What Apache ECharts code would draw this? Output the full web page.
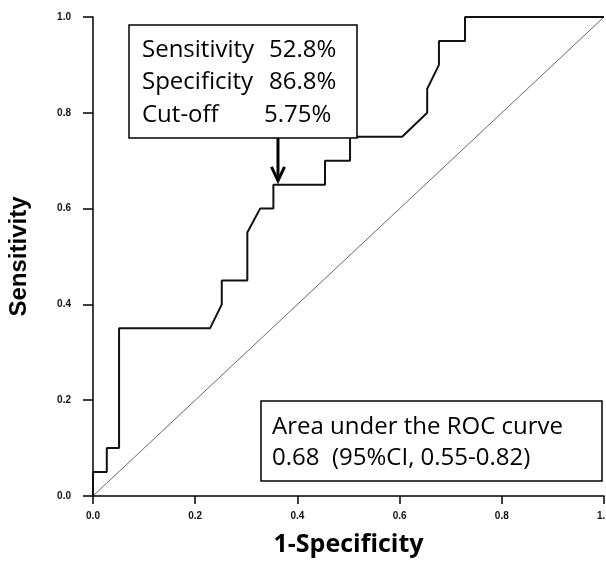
<!DOCTYPE html>
<html>
<head>
<meta charset="utf-8">
<script src="https://cdn.jsdelivr.net/npm/echarts@6/dist/echarts.min.js"></script>
<style>
  html, body { margin: 0; padding: 0; background: #fff; }
  #chart { width: 606px; height: 561px; }
</style>
</head>
<body>
<div id="chart"></div>
<script>
// ROC curve points (1-Specificity, Sensitivity)
const rocX = [0, 0, 0.027, 0.027, 0.051, 0.051, 0.229, 0.252, 0.252, 0.302, 0.302, 0.327, 0.353, 0.353, 0.454, 0.454, 0.503, 0.503, 0.605, 0.654, 0.654, 0.677, 0.677, 0.728, 0.728, 1.0];
const rocY = [0, 0.05, 0.05, 0.10, 0.10, 0.35, 0.35, 0.40, 0.45, 0.45, 0.55, 0.60, 0.60, 0.65, 0.65, 0.70, 0.70, 0.75, 0.75, 0.80, 0.85, 0.90, 0.95, 0.95, 1.0, 1.0];
// reference diagonal
const diagX = [0, 1];
const diagY = [0, 1];
// tick labels
const xTicks = [0, 0.2, 0.4, 0.6, 0.8, 1.0];
const yTicks = [0, 0.2, 0.4, 0.6, 0.8, 1.0];
// cut-off point pointed by the arrow
const cutX = 0.362;
const cutY = 0.656;
const arrowStartY = 0.747;
// annotation texts
const box1Labels = ['Sensitivity', 'Specificity', 'Cut-off'];
const box1Values = ['52.8%', '86.8%', '5.75%'];
const box2Lines = ['Area under the ROC curve', '0.68  (95%CI, 0.55-0.82)'];

const chart = echarts.init(document.getElementById('chart'), null, { renderer: 'canvas' });

const tickFmt = v => yTicks.concat(xTicks).indexOf(v) >= 0 ? v.toFixed(1) : '';

const option = {
  animation: false,
  backgroundColor: '#fff',
  grid: { left: 93, right: 2, top: 17, bottom: 65, containLabel: false, outerBoundsMode: 'none' },
  xAxis: {
    type: 'value', min: 0, max: 1, interval: 0.2,
    name: '1-Specificity', nameLocation: 'middle', nameGap: 36,
    nameTextStyle: { fontFamily: 'Open Sans', fontWeight: 'bold', fontSize: 25, color: '#000' },
    axisLine: { show: true, lineStyle: { color: '#000', width: 1.5 } },
    axisTick: { show: true, length: 8, lineStyle: { color: '#000', width: 1.5 } },
    axisLabel: { formatter: tickFmt, fontFamily: 'Liberation Sans', fontWeight: 'bold', fontSize: 10, color: '#111', margin: 15 },
    splitLine: { show: false }
  },
  yAxis: {
    type: 'value', min: 0, max: 1, interval: 0.2,
    name: 'Sensitivity', nameLocation: 'middle', nameGap: 62, nameRotate: 90,
    nameTextStyle: { fontFamily: 'Liberation Sans', fontWeight: 'bold', fontSize: 24, color: '#000' },
    axisLine: { show: true, lineStyle: { color: '#000', width: 1.5 } },
    axisTick: { show: true, length: 10, lineStyle: { color: '#000', width: 1.5 } },
    axisLabel: { formatter: tickFmt, fontFamily: 'Liberation Sans', fontWeight: 'bold', fontSize: 10, color: '#111', margin: 22 },
    splitLine: { show: false }
  },
  series: [
    {
      type: 'line', name: 'diagonal', symbol: 'none', silent: true,
      data: diagX.map((x, i) => [x, diagY[i]]),
      lineStyle: { color: '#666', width: 1 }
    },
    {
      type: 'line', name: 'ROC', symbol: 'none', silent: true,
      data: rocX.map((x, i) => [x, rocY[i]]),
      lineStyle: { color: '#111', width: 2 }
    }
  ]
};
chart.setOption(option);

// annotation boxes and arrow (layout in pixels)
const p0 = chart.convertToPixel({ gridIndex: 0 }, [cutX, arrowStartY]);
const p1 = chart.convertToPixel({ gridIndex: 0 }, [cutX, cutY]);
const font = '24px "Open Sans"';
const graphics = [
  { type: 'rect', shape: { x: 129, y: 25, width: 228, height: 113 }, style: { fill: '#fff', stroke: '#000', lineWidth: 1.5 }, z: 10 },
  { type: 'rect', shape: { x: 261, y: 401, width: 341, height: 80 }, style: { fill: '#fff', stroke: '#000', lineWidth: 1.5 }, z: 10 },
  { type: 'line', shape: { x1: p0[0], y1: p0[1], x2: p1[0], y2: p1[1] - 2 }, style: { stroke: '#000', lineWidth: 3 }, z: 11 },
  { type: 'polyline', shape: { points: [[p1[0] - 6.5, p1[1] - 15], [p1[0], p1[1] - 1], [p1[0] + 6.5, p1[1] - 15]] }, style: { stroke: '#000', lineWidth: 3, fill: null, lineJoin: 'miter' }, z: 11 }
];
const valLeft = [269, 269, 264];
box1Labels.forEach((t, i) => {
  graphics.push({ type: 'text', z: 12, style: { text: t, x: 142, y: 50 + i * 32.5, font: font, fill: '#000', textAlign: 'left', textVerticalAlign: 'middle' } });
  graphics.push({ type: 'text', z: 12, style: { text: box1Values[i], x: valLeft[i], y: 50 + i * 32.5, font: font, fill: '#000', textAlign: 'left', textVerticalAlign: 'middle' } });
});
box2Lines.forEach((t, i) => {
  graphics.push({ type: 'text', z: 12, style: { text: t, x: 272, y: 427 + i * 31, font: font, fill: '#000', textAlign: 'left', textVerticalAlign: 'middle' } });
});
chart.setOption({ graphic: graphics });
</script>
</body>
</html>
